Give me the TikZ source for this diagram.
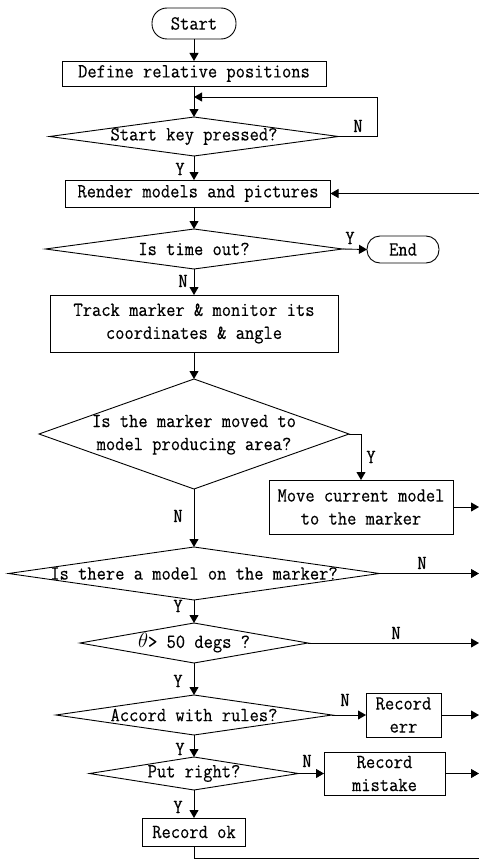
\documentclass[tikz,border=0pt]{standalone}
\usepackage{fontspec}
\setmonofont{Latin Modern Mono}[FakeStretch=0.9, FakeBold=0.3]
\usetikzlibrary{shapes.geometric,arrows.meta}
\begin{document}
\begin{tikzpicture}[x=1pt,y=-1pt,
  every node/.style={font=\fontsize{20}{23}\selectfont\ttfamily, inner sep=0pt, outer sep=0pt},
  box/.style={draw, rectangle, line width=0.9pt, align=center},
  dec/.style={draw, diamond, line width=0.9pt},
  lbl/.style={anchor=base},
  arr/.style={-{Triangle[length=8pt,width=9pt]}, line width=0.9pt},
  ln/.style={line width=0.9pt}]
\useasboundingbox (0,0) rectangle (479,859);

% nodes
\node[box, rounded corners=15pt, minimum width=84pt, minimum height=31pt] (start) at (194,23.5) {Start};
\node[box, minimum width=264pt, minimum height=25pt] (define) at (194,73.5) {Define relative positions};
\node[dec, minimum width=289pt, minimum height=39pt] (d1) at (194,136.5) {\makebox[0pt]{Start key pressed?}};
\node[box, minimum width=265pt, minimum height=27pt] (render) at (198,193.5) {Render models and pictures};
\node[dec, minimum width=297pt, minimum height=40pt] (d2) at (194,249) {\makebox[0pt]{Is time out?}};
\node[box, rounded corners=13pt, minimum width=72pt, minimum height=27pt] (end) at (403,249.5) {End};
\node[box, minimum width=288pt, minimum height=57pt] (track) at (194,323.5) {Track marker \& monitor its\\coordinates \& angle};
\node[dec, minimum width=310pt, minimum height=110pt] (d3) at (194,434) {\makebox[0pt]{\begin{tabular}{@{}c@{}}Is the marker moved to\\model producing area?\end{tabular}}};
\node[box, minimum width=184pt, minimum height=54pt] (move) at (361,507) {Move current model\\to the marker};
\node[dec, minimum width=371pt, minimum height=53pt] (d4) at (194,573.5) {\makebox[0pt]{Is there a model on the marker?}};
\node[dec, minimum width=228pt, minimum height=40pt] (d5) at (194,643) {\makebox[0pt]{$\theta$> 50 degs ?}};
\node[dec, minimum width=276pt, minimum height=40pt] (d6) at (194,715) {\makebox[0pt]{Accord with rules?}};
\node[box, minimum width=75pt, minimum height=44pt] (rerr) at (403.5,715) {Record\\err};
\node[dec, minimum width=209pt, minimum height=33pt] (d7) at (194,773.5) {\makebox[0pt]{Put right?}};
\node[box, minimum width=121pt, minimum height=43pt] (rmis) at (384.5,773.5) {Record\\mistake};
\node[box, minimum width=103pt, minimum height=28pt] (rok) at (194,832) {Record ok};

% free ends on the right edge
\coordinate (loopc) at (377,97);
\coordinate (rin) at (479,193.5);
\coordinate (rmove) at (479,507);
\coordinate (rd4) at (479,573.5);
\coordinate (rd5) at (479,643);
\coordinate (rerrout) at (479,715);
\coordinate (rmisout) at (479,773.5);
\coordinate (bottom) at (194,858);
\coordinate (bottomr) at (479,858);

% connectors
\draw[arr] (start) -- (define);
\draw[arr] (define) -- (d1);
\draw[arr] (d1.east) -| (loopc) -- (loopc -| d1.north);
\draw[arr] (d1.south) -- (d1.south |- render.north);
\draw[arr] (d1.south |- render.south) -- (d2.north);
\draw[arr] (d2.east) -- (end.west);
\draw[arr] (d2) -- (track);
\draw[arr] (track) -- (d3);
\draw[arr] (d3.east) -| (move.north);
\draw[arr] (move.east) -- (rmove);
\draw[arr] (d3) -- (d4);
\draw[arr] (d4.east) -- (rd4);
\draw[arr] (d4) -- (d5);
\draw[arr] (d5.east) -- (rd5);
\draw[arr] (d5) -- (d6);
\draw[arr] (d6.east) -- (rerr.west);
\draw[arr] (rerr.east) -- (rerrout);
\draw[arr] (d6) -- (d7);
\draw[arr] (d7.east) -- (rmis.west);
\draw[arr] (rmis.east) -- (rmisout);
\draw[arr] (d7) -- (rok);
\draw[ln] (rok.south) -- (bottom) -- (bottomr);
\draw[arr] (rin) -- (render.east);

% labels
\node[lbl] (l1) at (358,132) {N};
\node[lbl] (l2) at (180,175) {Y};
\node[lbl] (l3) at (350,244) {Y};
\node[lbl] (l4) at (183,287) {N};
\node[lbl] (l5) at (371,463) {Y};
\node[lbl] (l6) at (178,522) {N};
\node[lbl] (l7) at (422,569) {N};
\node[lbl] (l8) at (178,612) {Y};
\node[lbl] (l9) at (396,639) {N};
\node[lbl] (l10) at (178,687) {Y};
\node[lbl] (l11) at (345,706) {N};
\node[lbl] (l12) at (180,755) {Y};
\node[lbl] (l13) at (307,767) {N};
\node[lbl] (l14) at (178,813) {Y};
\end{tikzpicture}
\end{document}
